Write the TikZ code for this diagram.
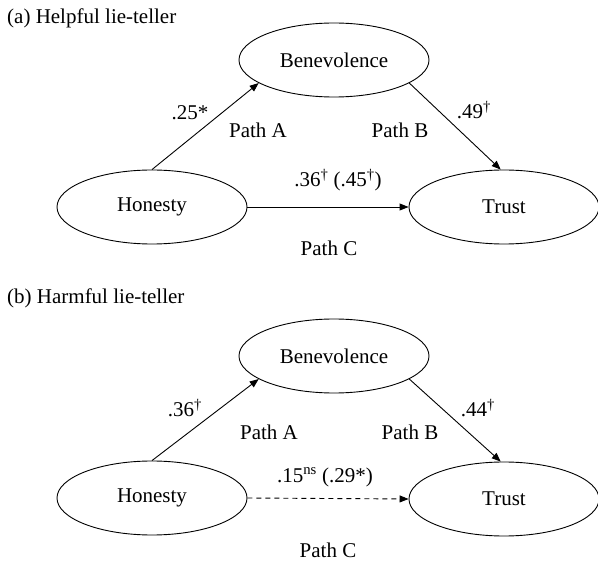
\documentclass[tikz,border=0pt]{standalone}
\usepackage{fontspec}
\setmainfont{Liberation Serif}
\usetikzlibrary{shapes.geometric,arrows.meta}
\tikzset{
  var/.style={draw, ellipse, minimum width=190pt, minimum height=74pt, inner sep=0pt, line width=0.9pt, font=\fontsize{21}{25}\selectfont},
  lab/.style={inner sep=0pt, font=\fontsize{21}{25}\selectfont},
  ttl/.style={inner sep=0pt, anchor=west, font=\fontsize{21}{25}\selectfont},
  arr/.style={line width=0.9pt, -{Triangle[length=9pt,width=7pt]}},
  darr/.style={arr, dash pattern=on 5pt off 4pt}
}
\begin{document}
\begin{tikzpicture}[x=1pt,y=-1pt]
\useasboundingbox (0,0) rectangle (598,564);
% panel (a)
\node[ttl] (ta) at (7,18) {(a) Helpful lie-teller};
\node[var] (bena) at (334,60) {Benevolence};
\node[var] (hona) at (152,207) {Honesty};
\node[var] (trua) at (504,207) {Trust};
\draw[arr] (hona.north) -- (bena.197);
\draw[arr] (bena.-17) -- (trua.95);
\draw[arr] (hona.east) -- (trua.west);
\node[lab] (ca1) at (190,113) {.25*};
\node[lab] (pa1) at (258,130) {Path A};
\node[lab] (pb1) at (400,130) {Path B};
\node[lab] (cb1) at (474,110) {.49\textsuperscript{†}};
\node[lab] (cc1) at (338,180) {.36\textsuperscript{†} (.45\textsuperscript{†})};
\node[lab] (pc1) at (329,248) {Path C};
% panel (b)
\node[ttl] (tb) at (7,298) {(b) Harmful lie-teller};
\node[var] (benb) at (334,356) {Benevolence};
\node[var] (honb) at (152,498) {Honesty};
\node[var] (trub) at (504,499) {Trust};
\draw[arr] (honb.north) -- (benb.197);
\draw[arr] (benb.-17) -- (trub.95);
\draw[darr] (honb.east) -- (trub.west);
\node[lab] (ca2) at (185,408) {.36\textsuperscript{†}};
\node[lab] (pa2) at (269,432) {Path A};
\node[lab] (pb2) at (410,432) {Path B};
\node[lab] (cb2) at (478,408) {.44\textsuperscript{†}};
\node[lab] (cc2) at (325,477) {.15\textsuperscript{ns} (.29*)};
\node[lab] (pc2) at (328,550) {Path C};
\end{tikzpicture}
\end{document}
